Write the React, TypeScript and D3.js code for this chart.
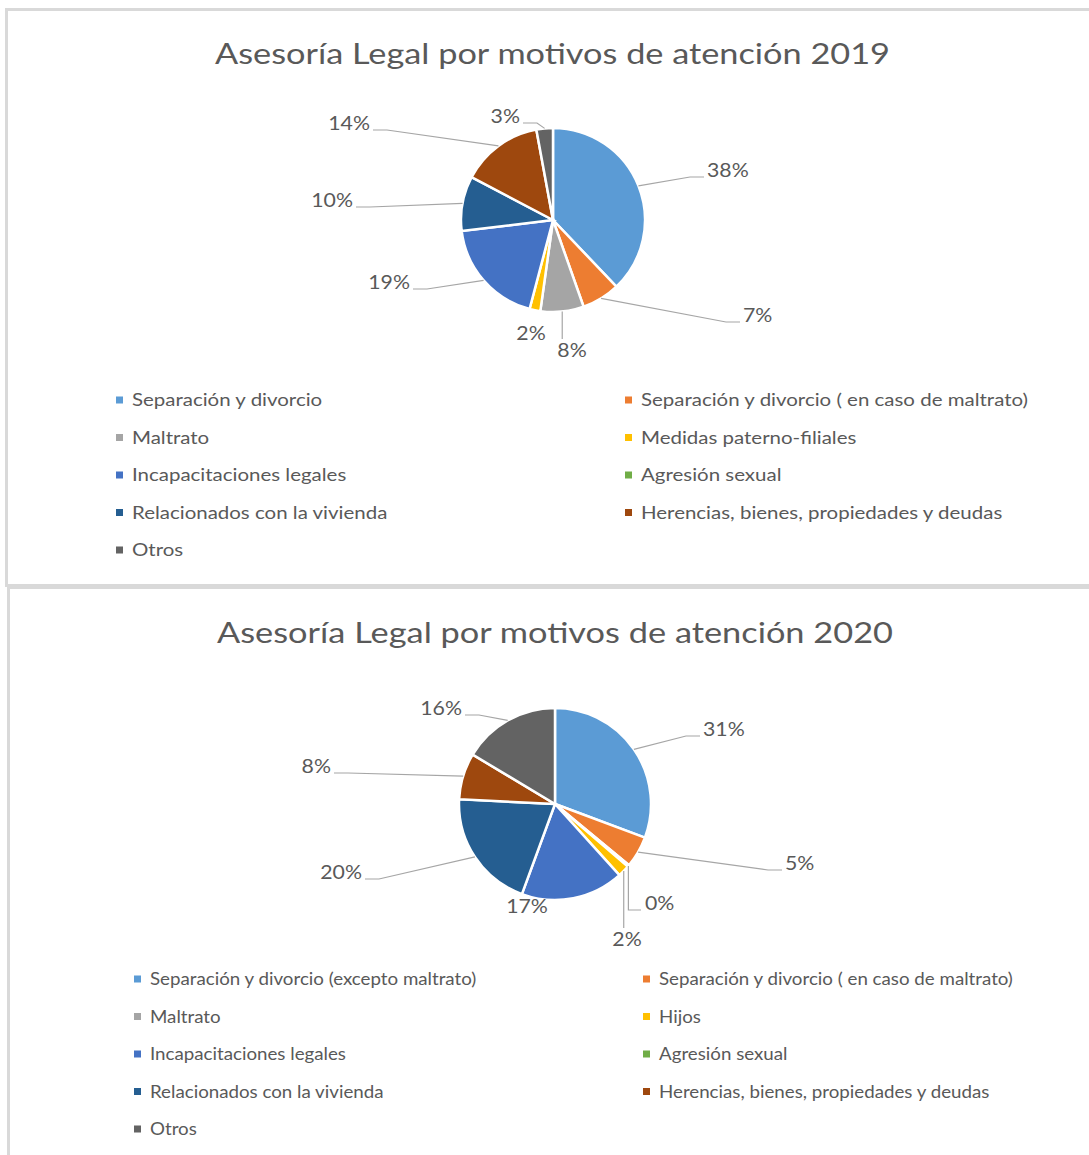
import React from "react";
import * as d3 from "d3";

// ---------- DATA ----------
const categories2019 = [
  "Separación y divorcio",
  "Separación y divorcio ( en caso de maltrato)",
  "Maltrato",
  "Medidas paterno-filiales",
  "Incapacitaciones legales",
  "Agresión sexual",
  "Relacionados con la vivienda",
  "Herencias, bienes, propiedades y deudas",
  "Otros",
];
const values2019 = [37.9, 6.7, 7.6, 1.9, 19.0, 0, 9.6, 14.4, 2.9];

const categories2020 = [
  "Separación y divorcio (excepto maltrato)",
  "Separación y divorcio ( en caso de maltrato)",
  "Maltrato",
  "Hijos",
  "Incapacitaciones legales",
  "Agresión sexual",
  "Relacionados con la vivienda",
  "Herencias, bienes, propiedades y deudas",
  "Otros",
];
const values2020 = [30.7, 5.3, 0.3, 2.0, 17.3, 0, 20.2, 7.8, 16.4];

const title2019 = "Asesoría Legal por motivos de atención 2019";
const title2020 = "Asesoría Legal por motivos de atención 2020";

const colors = [
  "#5B9BD5",
  "#ED7D31",
  "#A5A5A5",
  "#FFC000",
  "#4472C4",
  "#70AD47",
  "#255E91",
  "#9E480E",
  "#636363",
];

// ---------- LAYOUT (label placement relative to pie centre) ----------
type LabelLayout = { dx: number; dy: number; anchor: "start" | "end" | "middle"; line: "elbow" | "down" | "downElbow" | "none" } | null;

const labels2019: LabelLayout[] = [
  { dx: 154, dy: -43, anchor: "start", line: "elbow" },
  { dx: 190, dy: 102, anchor: "start", line: "elbow" },
  { dx: 19, dy: 137, anchor: "middle", line: "down" },
  { dx: -22, dy: 120, anchor: "middle", line: "none" },
  { dx: -143, dy: 69, anchor: "end", line: "elbow" },
  null,
  { dx: -200, dy: -13, anchor: "end", line: "elbow" },
  { dx: -183, dy: -90, anchor: "end", line: "elbow" },
  { dx: -33, dy: -97, anchor: "end", line: "elbow" },
];

const labels2020: LabelLayout[] = [
  { dx: 148, dy: -68, anchor: "start", line: "elbow" },
  { dx: 230, dy: 66, anchor: "start", line: "elbow" },
  { dx: 90, dy: 106, anchor: "start", line: "downElbow" },
  { dx: 72, dy: 142, anchor: "middle", line: "down" },
  { dx: -28, dy: 109, anchor: "middle", line: "none" },
  null,
  { dx: -193, dy: 75, anchor: "end", line: "elbow" },
  { dx: -224, dy: -31, anchor: "end", line: "elbow" },
  { dx: -93, dy: -89, anchor: "end", line: "elbow" },
];

const FONT = "Lato, 'Open Sans', sans-serif";
const TEXT = "#595959";
const LINE = "#A6A6A6";

type PieProps = {
  cx: number;
  cy: number;
  r: number;
  values: number[];
  layout: LabelLayout[];
};

function Pie({ cx, cy, r, values, layout }: PieProps) {
  const pie = d3.pie<number>().sort(null).value((d) => d);
  const arcs = pie(values);
  const arc = d3.arc<d3.PieArcDatum<number>>().innerRadius(0).outerRadius(r);
  const total = d3.sum(values);
  const fs = 19;
  const cap = 13;
  return (
    <g transform={`translate(${cx},${cy})`}>
      {arcs.map((a, i) =>
        a.value > 0 ? (
          <path key={i} d={arc(a) || ""} fill={colors[i]} stroke="#fff" strokeWidth={2.5} />
        ) : null
      )}
      {arcs.map((a, i) => {
        const L = layout[i];
        if (!L) return null;
        const mid = (a.startAngle + a.endAngle) / 2;
        const sx = r * Math.sin(mid);
        const sy = -r * Math.cos(mid);
        const txt = `${Math.round((a.value / total) * 100)}%`;
        let pts: [number, number][] = [];
        if (L.line === "elbow") {
          const dir = L.anchor === "start" ? -1 : 1;
          const ex = L.dx + dir * 3;
          pts = [
            [sx, sy],
            [ex + dir * 14, L.dy],
            [ex, L.dy],
          ];
        } else if (L.line === "down") {
          pts = [
            [sx, sy],
            [sx, L.dy - cap - 5],
          ];
        } else if (L.line === "downElbow") {
          pts = [
            [sx, sy],
            [sx, L.dy],
            [L.dx - 4, L.dy],
          ];
        }
        return (
          <g key={"l" + i}>
            {pts.length > 0 && (
              <path d={d3.line()(pts) || ""} fill="none" stroke={LINE} strokeWidth={1.2} />
            )}
            <text
              transform={`translate(${L.dx},${L.dy}) scale(1.12,1)`}
              textAnchor={L.anchor}
              fontFamily={FONT}
              fontSize={fs}
              fill={TEXT}
            >
              {txt}
            </text>
          </g>
        );
      })}
    </g>
  );
}

type LegendProps = {
  x1: number;
  x2: number;
  y0: number;
  step: number;
  sx: number;
  items: string[];
};

function Legend({ x1, x2, y0, step, sx, items }: LegendProps) {
  return (
    <g>
      {items.map((name, i) => {
        const col = i % 2;
        const row = Math.floor(i / 2);
        const x = col === 0 ? x1 : x2;
        const y = y0 + row * step;
        return (
          <g key={i}>
            <rect x={x} y={y - 3.5} width={7} height={7} fill={colors[i]} />
            <text
              transform={`translate(${x + 16},${y + 6}) scale(${sx},1)`}
              fontFamily={FONT}
              fontSize={17.5}
              fill={TEXT}
            >
              {name}
            </text>
          </g>
        );
      })}
    </g>
  );
}

export default function App() {
  return (
    <svg
      width={1089}
      height={1155}
      style={{ position: "absolute", left: 0, top: 0, background: "#fff" }}
    >
      <rect x={0} y={0} width={1089} height={1155} fill="#fff" />
      {/* frames */}
      <rect x={6.5} y={9.5} width={1100} height={576} fill="none" stroke="#D9D9D9" strokeWidth={3} />
      <rect x={8.5} y={587.5} width={1100} height={620} fill="none" stroke="#D9D9D9" strokeWidth={3} />

      {/* chart 2019 */}
      <text
        x={215}
        y={64}
        textLength={675}
        lengthAdjust="spacingAndGlyphs"
        fontFamily={FONT}
        fontSize={28}
        fill={TEXT}
      >
        {title2019}
      </text>
      <Pie cx={553} cy={220} r={92} values={values2019} layout={labels2019} />
      <Legend x1={116} x2={625} y0={400} step={37.5} sx={1.17} items={categories2019} />

      {/* chart 2020 */}
      <text
        x={217}
        y={643}
        textLength={676}
        lengthAdjust="spacingAndGlyphs"
        fontFamily={FONT}
        fontSize={28}
        fill={TEXT}
      >
        {title2020}
      </text>
      <Pie cx={555} cy={804} r={96} values={values2020} layout={labels2020} />
      <Legend x1={134} x2={643} y0={979} step={37.5} sx={1.07} items={categories2020} />
    </svg>
  );
}
